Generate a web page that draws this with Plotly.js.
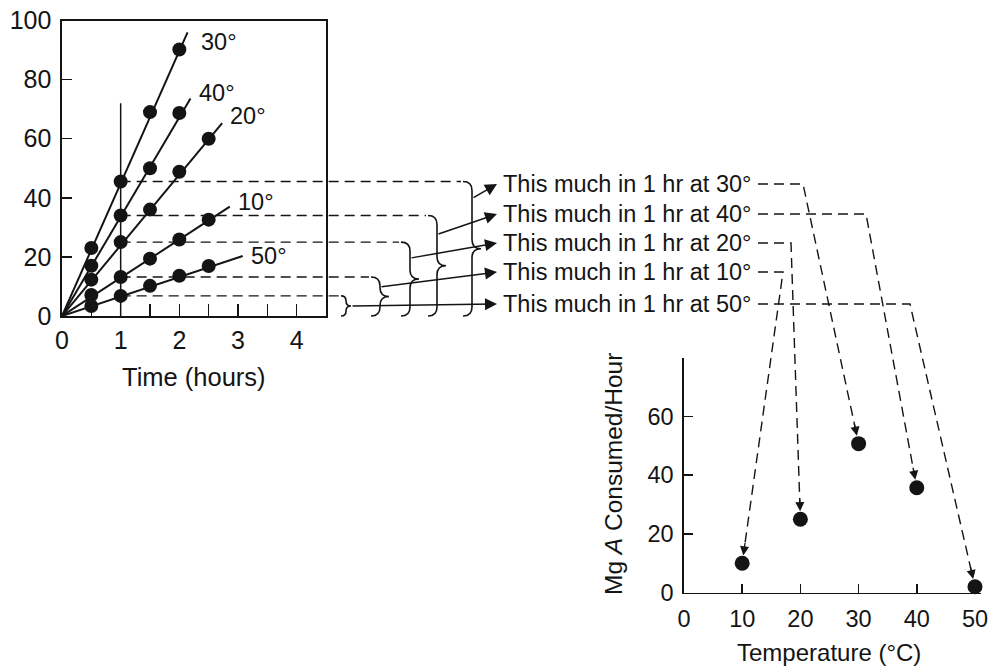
<!DOCTYPE html>
<html>
<head>
<meta charset="utf-8">
<script src="https://cdn.plot.ly/plotly-3.0.1.min.js"></script>
<style>html,body{margin:0;padding:0;background:#fff;}#chart{width:997px;height:667px;}</style>
</head>
<body>
<div id="chart"></div>
<script>
// ---------------- data ----------------
const seriesTemps = [30, 40, 20, 10, 50];
const hours30 = [0.5, 1, 1.5, 2];
const mg30    = [23, 45.5, 69, 90.2];
const hours40 = [0.5, 1, 1.5, 2];
const mg40    = [17, 34, 50, 68.7];
const hours20 = [0.5, 1, 1.5, 2, 2.5];
const mg20    = [12.3, 25, 36, 48.8, 60];
const hours10 = [0.5, 1, 1.5, 2, 2.5];
const mg10    = [7.1, 13.2, 19.4, 25.9, 32.6];
const hours50 = [0.5, 1, 1.5, 2, 2.5];
const mg50    = [3.4, 6.8, 10.2, 13.6, 16.9];
const fitEndHours = [2.14, 2.19, 2.73, 2.86, 3.08];
const fitEndMg    = [96, 73.6, 65.3, 37, 20.3];
const oneHourLineTop = 72;
const rateTemps = [10, 20, 30, 40, 50];
const rateMg    = [10, 25, 50.7, 35.7, 2];
const xTicksLeft  = [0, 1, 2, 3, 4];
const yTicksLeft  = [0, 20, 40, 60, 80, 100];
const xTicksRight = [0, 10, 20, 30, 40, 50];
const yTicksRight = [0, 20, 40, 60];
const labelTemps = [30, 40, 20, 10, 50];

const hoursBy = {30: hours30, 40: hours40, 20: hours20, 10: hours10, 50: hours50};
const mgBy    = {30: mg30, 40: mg40, 20: mg20, 10: mg10, 50: mg50};

// ---------------- layout geometry ----------------
const W = 997, H = 667;
const L = {px0: 62, px1: 326, py0: 316, py1: 20.5, xr: [0, 4.5], yr: [0, 100]};
const R = {px0: 684, px1: 980.8, py0: 592.7, py1: 357.5, xr: [0, 51], yr: [0, 80]};
const LX = v => L.px0 + (v - L.xr[0]) / (L.xr[1] - L.xr[0]) * (L.px1 - L.px0);
const LY = v => L.py0 - (v - L.yr[0]) / (L.yr[1] - L.yr[0]) * (L.py0 - L.py1);
const RX = v => R.px0 + (v - R.xr[0]) / (R.xr[1] - R.xr[0]) * (R.px1 - R.px0);
const RY = v => R.py0 - (v - R.yr[0]) / (R.yr[1] - R.yr[0]) * (R.py0 - R.py1);
const pp = (x, y) => (x / W).toFixed(5) + ',' + (1 - y / H).toFixed(5);

const FONT = '"Liberation Sans", Arial, Helvetica, sans-serif';
const INK = '#141414';

// layout-only placement of the annotation scheme
const braceLeft  = {30: 463, 40: 428, 20: 401, 10: 371, 50: 341};
const braceR     = {30: 9, 40: 9, 20: 9, 10: 9, 50: 6};
const arrowStart = {30: 17, 40: 19, 20: 16, 10: 10, 50: null};
const labelY     = {30: 184, 40: 214, 20: 243, 10: 272, 50: 304};
const labelX = 501, arrowTipX = 497, connStartX = 758;
const connCornerX = {30: 803, 40: 866, 20: 791, 10: 783, 50: 910};
const tempLabelShift = {30: [11, -10], 40: [7, 6], 20: [6, 7], 10: [6, 5], 50: [6, 0]};

// ---------------- traces ----------------
const traces = [];
seriesTemps.forEach((t, i) => {
  traces.push({x: [0, fitEndHours[i]], y: [0, fitEndMg[i]], mode: 'lines', xaxis: 'x', yaxis: 'y',
    line: {color: INK, width: 2}, hoverinfo: 'skip', showlegend: false, cliponaxis: false});
  traces.push({x: hoursBy[t], y: mgBy[t], mode: 'markers', xaxis: 'x', yaxis: 'y', name: t + '°',
    marker: {color: INK, size: 14}, showlegend: false, cliponaxis: false});
});
traces.push({x: [1, 1], y: [0, oneHourLineTop], mode: 'lines', xaxis: 'x', yaxis: 'y',
  line: {color: INK, width: 1.5}, showlegend: false, hoverinfo: 'skip'});
traces.push({x: rateTemps, y: rateMg, mode: 'markers', xaxis: 'x2', yaxis: 'y2',
  marker: {color: INK, size: 15}, showlegend: false, cliponaxis: false});

// ---------------- shapes & annotations ----------------
const shapes = [];
const annotations = [];

labelTemps.forEach(t => {
  const v1 = mgBy[t][hoursBy[t].indexOf(1)];
  const yTop = LY(v1), yBot = LY(0);
  const xl = braceLeft[t];
  // dashed guide from the 1-hour point to the brace
  shapes.push({type: 'path', xref: 'paper', yref: 'paper',
    path: 'M' + pp(LX(1), yTop) + ' L' + pp(xl - 2, yTop),
    line: {color: INK, width: 1.4, dash: '10px,6px'}});
  // curly brace
  const r = Math.min(braceR[t], (yBot - yTop) / 4);
  const xs = xl + r, xt = xs + r, ym = (yTop + yBot) / 2;
  shapes.push({type: 'path', xref: 'paper', yref: 'paper',
    path: 'M' + pp(xl, yTop) + ' Q' + pp(xs, yTop) + ' ' + pp(xs, yTop + r) +
          ' L' + pp(xs, ym - r) + ' Q' + pp(xs, ym) + ' ' + pp(xt, ym) +
          ' Q' + pp(xs, ym) + ' ' + pp(xs, ym + r) + ' L' + pp(xs, yBot - r) +
          ' Q' + pp(xs, yBot) + ' ' + pp(xl, yBot),
    line: {color: INK, width: 1.6}});
  // solid arrow from brace to label
  let sx, sy;
  if (arrowStart[t] === null) { sx = xt; sy = ym; } else { sx = xs; sy = yTop + arrowStart[t]; }
  const ly = labelY[t];
  annotations.push({xref: 'paper', yref: 'paper', x: arrowTipX / W, y: 1 - ly / H, text: '',
    showarrow: true, axref: 'pixel', ayref: 'pixel', ax: sx - arrowTipX, ay: sy - ly,
    arrowhead: 2, arrowsize: 1.6, arrowwidth: 1.5, arrowcolor: INK, standoff: 0});
  // label text
  annotations.push({xref: 'paper', yref: 'paper', x: labelX / W, y: 1 - ly / H,
    xanchor: 'left', yanchor: 'middle', showarrow: false,
    text: 'This much in 1 hr at ' + t + '°', font: {family: FONT, size: 23.5, color: INK}});
  // dashed connector to the rate plot
  const k = rateTemps.indexOf(t);
  const ptx = RX(rateTemps[k]), pty = RY(rateMg[k]);
  const cx = connCornerX[t];
  const dx = cx - ptx, dy = ly - pty, dl = Math.hypot(dx, dy);
  const ux = dx / dl, uy = dy / dl;
  shapes.push({type: 'path', xref: 'paper', yref: 'paper',
    path: 'M' + pp(connStartX, ly) + ' L' + pp(cx, ly) + ' L' + pp(ptx + ux * 14, pty + uy * 14),
    line: {color: INK, width: 1.4, dash: '10px,6px'}});
  annotations.push({xref: 'x2', yref: 'y2', x: rateTemps[k], y: rateMg[k], text: '',
    showarrow: true, axref: 'pixel', ayref: 'pixel', ax: ux * 22, ay: uy * 22,
    arrowhead: 2, arrowsize: 1.4, arrowwidth: 1.3, arrowcolor: INK, standoff: 8});
});

// temperature labels on the time plot
seriesTemps.forEach((t, i) => {
  annotations.push({xref: 'x', yref: 'y', x: fitEndHours[i], y: fitEndMg[i],
    xanchor: 'left', yanchor: 'middle', showarrow: false,
    xshift: tempLabelShift[t][0], yshift: tempLabelShift[t][1],
    text: t + '°', font: {family: FONT, size: 23.5, color: INK}});
});

// axis titles
annotations.push({xref: 'paper', yref: 'paper', x: 194 / W, y: 1 - 377 / H,
  xanchor: 'center', yanchor: 'middle', showarrow: false, text: 'Time (hours)',
  font: {family: FONT, size: 25.5, color: INK}});
annotations.push({xref: 'paper', yref: 'paper', x: 829 / W, y: 1 - 652 / H,
  xanchor: 'center', yanchor: 'middle', showarrow: false, text: 'Temperature (°C)',
  font: {family: FONT, size: 24, color: INK}});
annotations.push({xref: 'paper', yref: 'paper', x: 613 / W, y: 1 - 474 / H,
  xanchor: 'center', yanchor: 'middle', showarrow: false, textangle: -90,
  text: 'Mg <i>A</i> Consumed/Hour', font: {family: FONT, size: 24.5, color: INK}});

const axBase = {showgrid: false, zeroline: false, showline: true, linecolor: INK, linewidth: 1.6,
  ticks: 'inside', tickcolor: INK, tickwidth: 1.5, fixedrange: true};

const layout = {
  width: W, height: H,
  margin: {l: 0, r: 0, t: 0, b: 0, pad: 0},
  paper_bgcolor: '#fff', plot_bgcolor: 'rgba(0,0,0,0)',
  showlegend: false,
  font: {family: FONT, size: 22, color: INK},
  xaxis: Object.assign({}, axBase, {domain: [L.px0 / W, L.px1 / W], range: L.xr, anchor: 'y',
    tickvals: xTicksLeft, ticklen: 12, mirror: true, ticklabelstandoff: 1,
    tickfont: {family: FONT, size: 25, color: INK},
    minor: {dtick: 0.5, ticks: 'inside', ticklen: 12, tickcolor: INK, tickwidth: 1.5}}),
  yaxis: Object.assign({}, axBase, {domain: [1 - L.py0 / H, 1 - L.py1 / H], range: L.yr, anchor: 'x',
    tickvals: yTicksLeft, ticklen: 10, mirror: true, ticklabelstandoff: 4,
    tickfont: {family: FONT, size: 25, color: INK}}),
  xaxis2: Object.assign({}, axBase, {domain: [R.px0 / W, R.px1 / W], range: R.xr, anchor: 'y2',
    tickvals: xTicksRight, ticklen: 9, ticklabelstandoff: 4,
    tickfont: {family: FONT, size: 23.5, color: INK}}),
  yaxis2: Object.assign({}, axBase, {domain: [1 - R.py0 / H, 1 - R.py1 / H], range: R.yr, anchor: 'x2',
    tickvals: yTicksRight, ticklen: 9, ticklabelstandoff: 4,
    tickfont: {family: FONT, size: 23.5, color: INK}}),
  shapes: shapes,
  annotations: annotations
};

Plotly.newPlot('chart', traces, layout, {staticPlot: true, displayModeBar: false});
</script>
</body>
</html>
